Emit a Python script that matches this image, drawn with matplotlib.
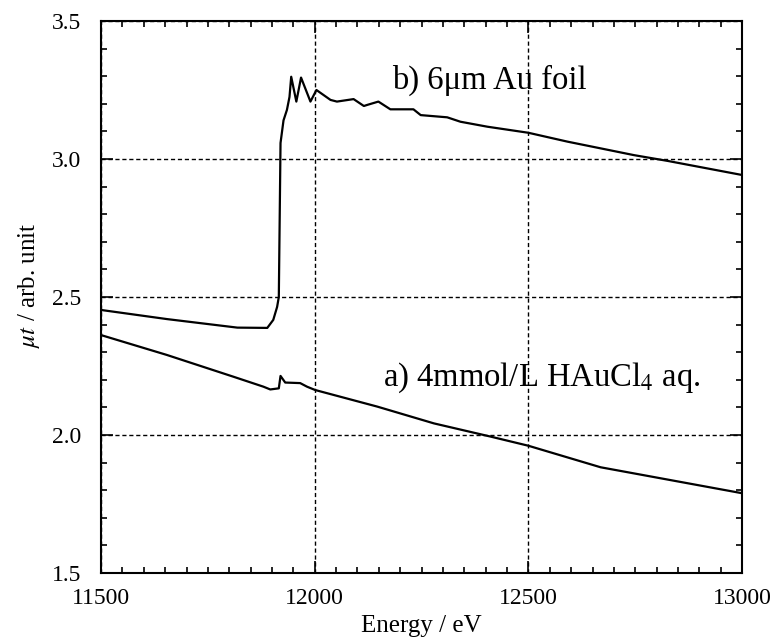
import matplotlib
matplotlib.use("Agg")
import matplotlib.pyplot as plt
from matplotlib.ticker import MultipleLocator

plt.rcParams['font.family'] = ['Liberation Serif', 'DejaVu Serif']
plt.rcParams['mathtext.fontset'] = 'stix'

# Curve b) 6 um Au foil
energy_b = [11500, 11654, 11819, 11889, 11903, 11912, 11916, 11920, 11927, 11935,
            11941, 11945, 11957, 11968, 11990, 12004, 12037, 12052, 12091, 12115,
            12123, 12149, 12177, 12231, 12248, 12310, 12341, 12404, 12500, 12591,
            12747, 12826, 13000]
mu_b = [2.453, 2.420, 2.389, 2.388, 2.417, 2.464, 2.50, 3.058, 3.14, 3.178,
        3.225, 3.298, 3.208, 3.295, 3.208, 3.25, 3.214, 3.208, 3.217, 3.192,
        3.196, 3.208, 3.18, 3.18, 3.159, 3.151, 3.135, 3.117, 3.095, 3.063,
        3.014, 2.993, 2.942]

# Curve a) 4 mmol/L HAuCl4 aq.
energy_a = [11500, 11654, 11810, 11880, 11896, 11916, 11920, 11931, 11966, 11982,
            12001, 12146, 12279, 12412, 12500, 12669, 13000]
mu_a = [2.362, 2.290, 2.211, 2.175, 2.165, 2.169, 2.214, 2.19, 2.188, 2.175,
        2.163, 2.103, 2.042, 1.994, 1.961, 1.883, 1.789]

xticks = [11500, 12000, 12500, 13000]
yticks = [1.5, 2.0, 2.5, 3.0, 3.5]

fig = plt.figure(figsize=(7.73, 6.42), dpi=100)
ax = fig.add_axes([0.1307, 0.1075, 0.8293, 0.8598])

ax.plot(energy_b, mu_b, color='black', lw=1.6)
ax.plot(energy_a, mu_a, color='black', lw=1.6)

ax.set_xlim(11500, 13000)
ax.set_ylim(1.5, 3.5)
ax.set_xticks(xticks)
ax.set_yticks(yticks)
ax.set_yticklabels(['%.1f' % v for v in yticks])
ax.xaxis.set_minor_locator(MultipleLocator(50))
ax.yaxis.set_minor_locator(MultipleLocator(0.1))
ax.tick_params(which='both', direction='in', top=True, right=True, width=1.2, labelsize=17)
ax.tick_params(which='major', length=8.5)
ax.tick_params(which='minor', length=4.3)
ax.tick_params(axis='y', which='major', pad=14)
ax.tick_params(axis='x', which='major', pad=11)
for s in ax.spines.values():
    s.set_linewidth(1.5)

ax.grid(True, which='major', color='black', linestyle=(0, (3, 2)), linewidth=1.0)

ax.set_xlabel('Energy / eV', fontsize=18)
ax.xaxis.set_label_coords(0.5, -0.076)
ax.set_ylabel(r'$\mu t$ / arb. unit', fontsize=18)
ax.yaxis.set_label_coords(-0.092, 0.522)

ax.text(12181, 3.256, 'b) 6μm Au foil', fontsize=23.5, ha='left', va='baseline')
ax.text(12160, 2.178, r'a) 4mmol/L HAuCl$_4$ aq.', fontsize=23.5, ha='left', va='baseline')

fig.savefig('out.png', dpi=100)
